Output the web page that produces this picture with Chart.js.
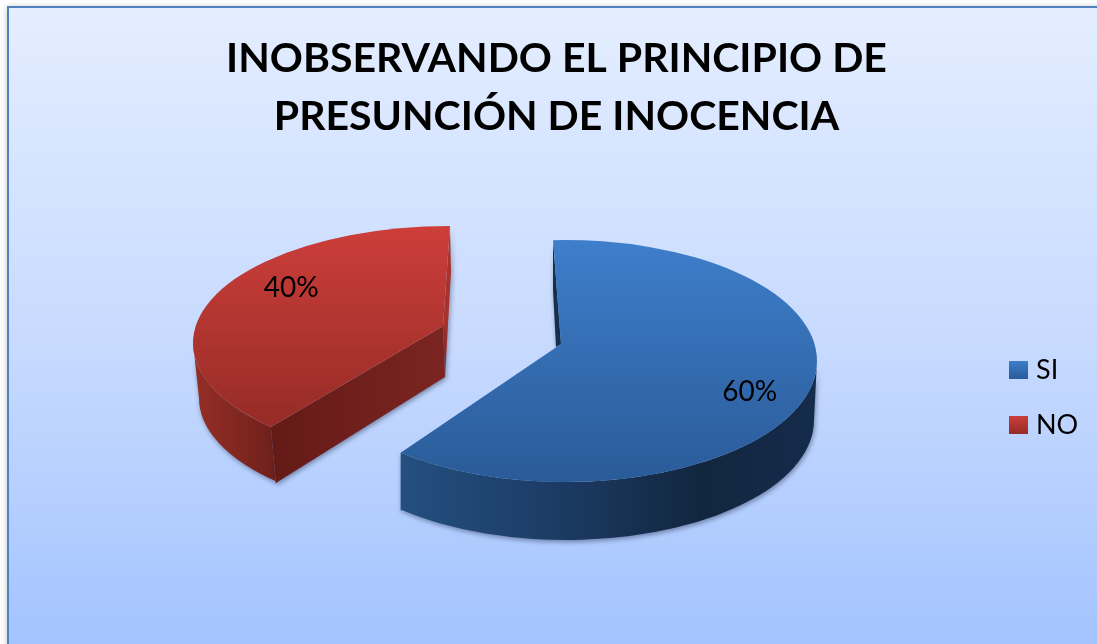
<!DOCTYPE html>
<html>
<head>
<meta charset="utf-8">
<style>html,body{margin:0;padding:0;background:#fff}canvas{display:block}</style>
<script src="https://cdn.jsdelivr.net/npm/chart.js@4/dist/chart.umd.js"></script>
</head>
<body>
<div style="width:1097px;height:644px"><canvas id="c" width="1097" height="644"></canvas></div>
<script>
const categories = ['SI', 'NO'];
const seriesValues = [60, 40];
const titleLines = ['INOBSERVANDO EL PRINCIPIO DE', 'PRESUNCIÓN DE INOCENCIA'];

const rad = Math.PI / 180;
const views = [
  { top:{cx:565,cy:361,a:252,b:121}, bot:{cx:566,cy:420,a:248,b:120},
    apex:[561,344], trimStart:-2.7, trimEnd:4.7, labelShift:0,
    topStops:['#3e7ecb','#2a5b98'], topY:[240,482],
    sideStops:[[0,'#244f80'],[0.4,'#1b3a62'],[0.72,'#12263f'],[1,'#152b4b']], sideX:[402,815],
    innerFill:'#15304f', inner:[[553,240],[553,290],[556,347],[561,344]],
    cut:null },
  { top:{cx:450,cy:343,a:257,b:117}, bot:{cx:453,cy:398,a:254,b:116},
    apex:[443,326], trimStart:8.2, trimEnd:0, labelShift:15,
    topStops:['#cd3e3a','#952b26'], topY:[227,428],
    sideStops:[[0,'#942e26'],[1,'#6f201b']], sideX:[196,276],
    innerFill:'#a8322c', inner:[[450,227],[451,272],[445,377],[443,326]],
    cut:{ from:'#7b2521', to:'#641a17' } }
];
const labelRadius = 0.775;

function linear(ctx, x0, y0, x1, y1, stops) {
  const g = ctx.createLinearGradient(x0, y0, x1, y1);
  stops.forEach(s => g.addColorStop(s[0], s[1]));
  return g;
}
function shadow(ctx, on) {
  ctx.shadowColor = on ? 'rgba(20,30,60,0.45)' : 'transparent';
  ctx.shadowBlur = on ? 5 : 0;
  ctx.shadowOffsetX = on ? 1 : 0;
  ctx.shadowOffsetY = on ? 2 : 0;
}
function pt(e, ang) { return [e.cx + e.a * Math.cos(ang), e.cy + e.b * Math.sin(ang)]; }
function legendSwatch(top, bottom) {
  const cv = document.createElement('canvas');
  cv.width = 19; cv.height = 18;
  const c = cv.getContext('2d');
  c.fillStyle = linear(c, 0, 0, 0, 18, [[0, top], [1, bottom]]);
  c.fillRect(0, 0, 19, 18);
  return cv;
}
const swatches = [legendSwatch('#3e7ecb', '#2a5b98'), legendSwatch('#cd3e3a', '#952b26')];

const piePlugin = {
  id: 'pie3d',
  beforeDraw(chart) {
    const ctx = chart.ctx;
    ctx.save();
    ctx.shadowColor = 'rgba(0,0,0,0.25)'; ctx.shadowBlur = 6; ctx.shadowOffsetX = -1;
    ctx.fillStyle = linear(ctx, 0, 7, 0, 644, [[0,'#e4eeff'],[0.2,'#d9e6ff'],[0.55,'#c6d9fe'],[1,'#a3c4ff']]);
    ctx.fillRect(8, 7, 1200, 700);
    ctx.shadowColor = 'transparent';
    ctx.strokeStyle = '#4f81bd'; ctx.lineWidth = 2;
    ctx.beginPath(); ctx.moveTo(8, 700); ctx.lineTo(8, 7); ctx.lineTo(1200, 7); ctx.stroke();
    ctx.restore();
  },
  afterLayout(chart) {
    const lg = chart.legend;
    if (lg) {
      const dx = 1014.5 - (lg.left + lg.options.labels.padding);
      lg.left += dx; lg.right += dx;
      const dy = 397.5 - (lg.top + lg.height / 2);
      lg.top += dy; lg.bottom += dy;
    }
  },
  beforeDatasetDraw(chart) {
    const ctx = chart.ctx;
    const arcs = chart.getDatasetMeta(0).data;
    ctx.save();
    [1, 0].forEach(i => {
      const v = views[i], arc = arcs[i];
      const s = arc.startAngle + v.trimStart * rad, e = arc.endAngle + v.trimEnd * rad;
      // inner cut face
      shadow(ctx, true);
      ctx.fillStyle = v.innerFill;
      ctx.beginPath();
      v.inner.forEach((p, k) => k ? ctx.lineTo(p[0], p[1]) : ctx.moveTo(p[0], p[1]));
      ctx.closePath(); ctx.fill();
      // outer rim
      ctx.beginPath();
      if (i === 0) {
        const p = pt(v.top, e);
        ctx.ellipse(v.top.cx, v.top.cy, v.top.a, v.top.b, 0, 0, e);
        const bEnd = Math.atan2((p[1] + 58 - v.bot.cy) / v.bot.b, (p[0] - v.bot.cx) / v.bot.a);
        ctx.lineTo(p[0], p[1] + 58);
        ctx.ellipse(v.bot.cx, v.bot.cy, v.bot.a, v.bot.b, 0, bEnd, 0, true);
      } else {
        const p = pt(v.top, s);
        ctx.ellipse(v.top.cx, v.top.cy, v.top.a, v.top.b, 0, 180 * rad, s, true);
        const cx = p[0] + 5, cy = p[1] + 56;
        const bEnd = Math.atan2((cy - v.bot.cy) / v.bot.b, (cx - v.bot.cx) / v.bot.a);
        ctx.lineTo(cx, cy);
        ctx.ellipse(v.bot.cx, v.bot.cy, v.bot.a, v.bot.b, 0, bEnd, 180 * rad, false);
      }
      ctx.closePath();
      ctx.fillStyle = linear(ctx, v.sideX[0], 0, v.sideX[1], 0, v.sideStops);
      ctx.fill();
      // flat cut face at the front
      if (v.cut) {
        const p = pt(v.top, s);
        ctx.beginPath();
        ctx.moveTo(v.apex[0], v.apex[1]);
        ctx.lineTo(445, 377);
        ctx.lineTo(p[0] + 5, p[1] + 56);
        ctx.lineTo(p[0], p[1]);
        ctx.closePath();
        ctx.fillStyle = linear(ctx, 445, 0, p[0], 0, [[0, v.cut.from], [1, v.cut.to]]);
        ctx.fill();
      }
      shadow(ctx, false);
      // top face
      ctx.beginPath();
      ctx.moveTo(v.apex[0], v.apex[1]);
      ctx.ellipse(v.top.cx, v.top.cy, v.top.a, v.top.b, 0, s, e);
      ctx.closePath();
      ctx.fillStyle = linear(ctx, 0, v.topY[0], 0, v.topY[1], [[0, v.topStops[0]], [1, v.topStops[1]]]);
      ctx.fill();
    });
    ctx.restore();
    return false;
  },
  afterDatasetsDraw(chart) {
    const ctx = chart.ctx;
    const arcs = chart.getDatasetMeta(0).data;
    const total = seriesValues.reduce((x, y) => x + y, 0);
    ctx.save();
    ctx.fillStyle = '#000';
    ctx.font = '28px Lato';
    ctx.textAlign = 'center';
    ctx.textBaseline = 'middle';
    arcs.forEach((arc, i) => {
      const v = views[i];
      const s = arc.startAngle + v.trimStart * rad, e = arc.endAngle + v.trimEnd * rad;
      const m = (s + e) / 2 + v.labelShift * rad;
      const x = v.top.cx + v.top.a * labelRadius * Math.cos(m);
      const y = v.top.cy + v.top.b * labelRadius * Math.sin(m);
      ctx.fillText(Math.round(seriesValues[i] / total * 100) + '%', x, y);
    });
    ctx.restore();
  }
};

new Chart(document.getElementById('c'), {
  type: 'pie',
  data: {
    labels: categories,
    datasets: [{ data: seriesValues, backgroundColor: ['#3570b5', '#b83530'], borderWidth: 0 }]
  },
  plugins: [piePlugin],
  options: {
    responsive: false,
    animation: false,
    layout: { padding: { left: 16 } },
    plugins: {
      tooltip: { enabled: false },
      title: {
        display: true,
        text: titleLines,
        color: '#000',
        font: { family: 'Lato', size: 41, weight: 'bold', lineHeight: 1.43 },
        padding: { top: 29, bottom: 20 }
      },
      legend: {
        display: true,
        position: 'right',
        labels: {
          font: { family: 'Lato', size: 27 },
          color: '#000',
          usePointStyle: true,
          pointStyleWidth: 8,
          boxHeight: 18,
          padding: 28,
          generateLabels() {
            return categories.map((t, i) => ({
              text: t,
              index: i,
              lineWidth: 0,
              strokeStyle: 'transparent',
              fontColor: '#000',
              pointStyle: swatches[i]
            }));
          }
        }
      }
    }
  }
});
</script>
</body>
</html>
